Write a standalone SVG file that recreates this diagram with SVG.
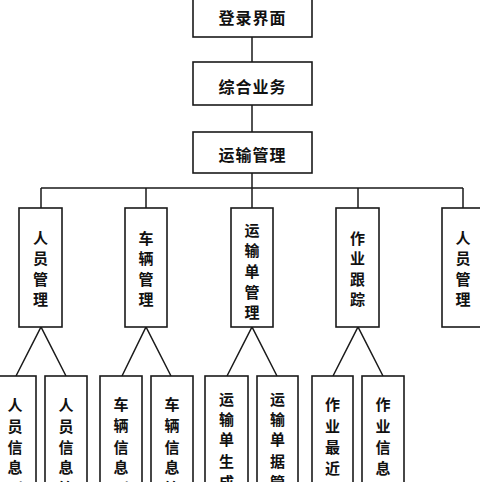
<svg xmlns="http://www.w3.org/2000/svg" width="480" height="482" viewBox="0 0 480 482">
<style>
.b{fill:#fff;stroke:#1a1a1a;stroke-width:1.6}
.c{fill:none;stroke:#1a1a1a;stroke-width:1.5}
text{font-family:"Noto Sans CJK SC","Noto Sans CJK JP",sans-serif;font-size:15px;fill:#111;text-anchor:middle;dominant-baseline:central;font-weight:bold}
.t{font-size:16px}
</style>
<rect width="480" height="482" fill="#fff"/>
<g id="connectors">
<path class="c" d="M252,37V62M252,105V132M252,173V188M41,188H463M41,188V208M146,188V208M252,188V208M358,188V208M463,188V208"/>
<path class="c" d="M16,376L41,327L66,376M122,376L146,327L171,376M227,376L252,327L277,376M333,376L358,327L383,376"/>
</g>
<g id="n_login"><rect class="b" x="193" y="-5" width="119" height="42"/><text class="t" x="252.5" y="17" letter-spacing="1">登录界面</text></g>
<g id="n_zonghe"><rect class="b" x="193" y="62" width="119" height="43"/><text class="t" x="252.5" y="86" letter-spacing="1">综合业务</text></g>
<g id="n_yunshu"><rect class="b" x="193" y="132" width="119" height="41"/><text class="t" x="252.5" y="154" letter-spacing="1">运输管理</text></g>
<g id="n_renyuan"><rect class="b" x="19" y="208" width="43" height="119"/><text x="40.5" y="237">人</text><text x="40.5" y="257">员</text><text x="40.5" y="278">管</text><text x="40.5" y="298">理</text></g>
<g id="n_cheliang"><rect class="b" x="125" y="208" width="42" height="119"/><text x="146" y="237">车</text><text x="146" y="257">辆</text><text x="146" y="278">管</text><text x="146" y="298">理</text></g>
<g id="n_yunshudan"><rect class="b" x="231" y="208" width="42" height="119"/><text x="252" y="229">运</text><text x="252" y="249">输</text><text x="252" y="270">单</text><text x="252" y="291">管</text><text x="252" y="311">理</text></g>
<g id="n_zuoye"><rect class="b" x="336" y="208" width="43" height="119"/><text x="357.5" y="237">作</text><text x="357.5" y="257">业</text><text x="357.5" y="278">跟</text><text x="357.5" y="298">踪</text></g>
<g id="n_renyuan2"><rect class="b" x="442" y="208" width="43" height="119"/><text x="463" y="237">人</text><text x="463" y="257">员</text><text x="463" y="278">管</text><text x="463" y="298">理</text></g>
<g id="n_a"><rect class="b" x="-6" y="376" width="42" height="120"/><text x="15" y="404">人</text><text x="15" y="425">员</text><text x="15" y="446">信</text><text x="15" y="466">息</text><text x="15" y="487">刷</text></g>
<g id="n_b"><rect class="b" x="45" y="376" width="42" height="120"/><text x="66" y="404">人</text><text x="66" y="425">员</text><text x="66" y="446">信</text><text x="66" y="466">息</text><text x="66" y="487">管</text></g>
<g id="n_c"><rect class="b" x="100" y="376" width="42" height="120"/><text x="121" y="403">车</text><text x="121" y="424">辆</text><text x="121" y="446">信</text><text x="121" y="466">息</text><text x="121" y="487">刷</text></g>
<g id="n_d"><rect class="b" x="151" y="376" width="42" height="120"/><text x="172" y="403">车</text><text x="172" y="424">辆</text><text x="172" y="446">信</text><text x="172" y="466">息</text><text x="172" y="487">管</text></g>
<g id="n_e"><rect class="b" x="205" y="376" width="43" height="120"/><text x="226.5" y="398">运</text><text x="226.5" y="418">输</text><text x="226.5" y="438">单</text><text x="226.5" y="460">生</text><text x="226.5" y="481">成</text></g>
<g id="n_f"><rect class="b" x="257" y="376" width="41" height="120"/><text x="277.5" y="398">运</text><text x="277.5" y="418">输</text><text x="277.5" y="438">单</text><text x="277.5" y="460">据</text><text x="277.5" y="481">管</text></g>
<g id="n_g"><rect class="b" x="312" y="376" width="41" height="120"/><text x="332.5" y="403">作</text><text x="332.5" y="425">业</text><text x="332.5" y="446">最</text><text x="332.5" y="467">近</text><text x="332.5" y="488">刷</text></g>
<g id="n_h"><rect class="b" x="362" y="376" width="42" height="120"/><text x="383" y="403">作</text><text x="383" y="425">业</text><text x="383" y="446">信</text><text x="383" y="467">息</text><text x="383" y="488">更</text></g>
</svg>
